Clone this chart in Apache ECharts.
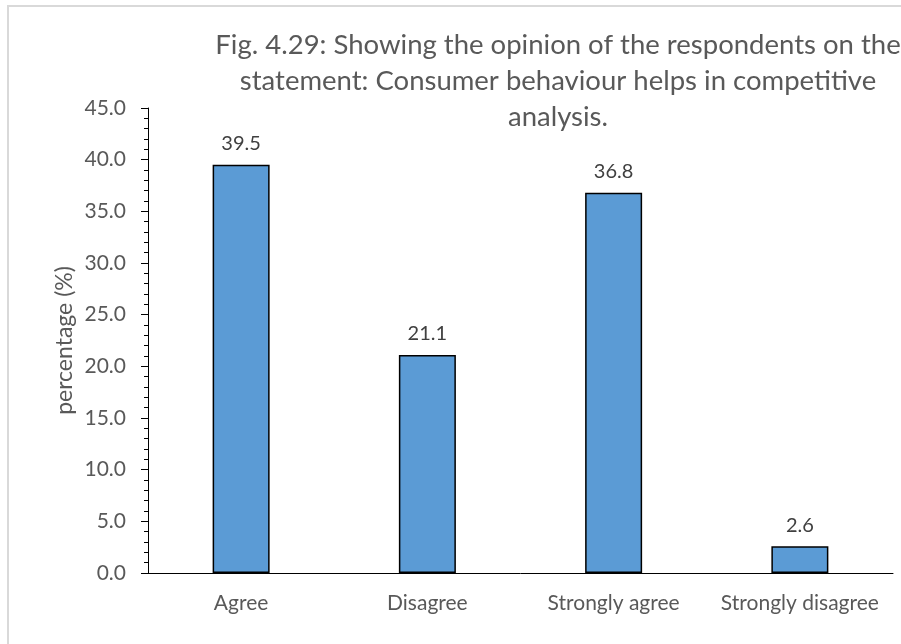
<!DOCTYPE html>
<html>
<head>
<meta charset="utf-8">
<script src="https://cdn.jsdelivr.net/npm/echarts@6/dist/echarts.min.js"></script>
<style>
  html, body { margin: 0; padding: 0; background: #fff; }
  #frame {
    position: absolute; left: 7px; top: 5px;
    width: 1000px; height: 700px;
    border-left: 2px solid #d9d9d9; border-top: 2px solid #d9d9d9;
  }
  #chart1 { position: absolute; left: 0; top: 0; width: 901px; height: 644px; }
</style>
</head>
<body>
<div id="frame"></div>
<div id="chart1"></div>
<script>
// data
const categories = ['Agree', 'Disagree', 'Strongly agree', 'Strongly disagree']
const percentValues = [39.5, 21.1, 36.8, 2.6]
const titleLines = [
  'Fig. 4.29: Showing the opinion of the respondents on the',
  'statement: Consumer behaviour helps in competitive',
  'analysis.'
]
const yTicks = { min: 0, max: 45, step: 5 }

const textGrey = '#595959'
const font = 'Lato, "Open Sans", sans-serif'

let myChart = echarts.init(document.getElementById('chart1'))

let option = {
  animation: false,
  title: {
    text: titleLines.join('\n'),
    left: 553,
    top: 22,
    textAlign: 'center',
    textStyle: {
      fontFamily: font,
      fontWeight: 'normal',
      fontSize: 27.5,
      lineHeight: 36,
      color: textGrey
    }
  },
  grid: {
    left: 148,
    right: 8,
    top: 108,
    bottom: 71
  },
  xAxis: {
    type: 'category',
    data: categories,
    axisLine: { lineStyle: { color: '#000', width: 1 } },
    axisTick: { show: false },
    axisLabel: {
      interval: 0,
      hideOverlap: false,
      margin: 20,
      fontFamily: font,
      fontSize: 21,
      color: textGrey
    }
  },
  yAxis: {
    type: 'value',
    min: yTicks.min,
    max: yTicks.max,
    interval: yTicks.step,
    name: 'percentage (%)',
    nameLocation: 'middle',
    nameGap: 72,
    nameMoveOverlap: false,
    nameTextStyle: {
      fontFamily: font,
      fontSize: 23,
      color: textGrey
    },
    axisLine: { show: true, lineStyle: { color: '#000', width: 1 } },
    axisTick: { show: true, length: 7, lineStyle: { color: '#000' } },
    minorTick: { show: true, splitNumber: 5, length: 4, lineStyle: { color: '#000' } },
    splitLine: { show: false },
    axisLabel: {
      margin: 22,
      fontFamily: font,
      fontSize: 21,
      color: textGrey,
      formatter: (v) => v.toFixed(1)
    }
  },
  series: [
    {
      type: 'bar',
      data: percentValues,
      barWidth: 57,
      itemStyle: {
        color: '#5b9bd5',
        borderColor: '#000',
        borderWidth: 1.5
      },
      label: {
        show: true,
        position: 'top',
        distance: 11,
        fontFamily: font,
        fontSize: 20,
        color: '#404040',
        formatter: (p) => p.value.toFixed(1)
      }
    }
  ]
}

option && myChart.setOption(option)
</script>
</body>
</html>
